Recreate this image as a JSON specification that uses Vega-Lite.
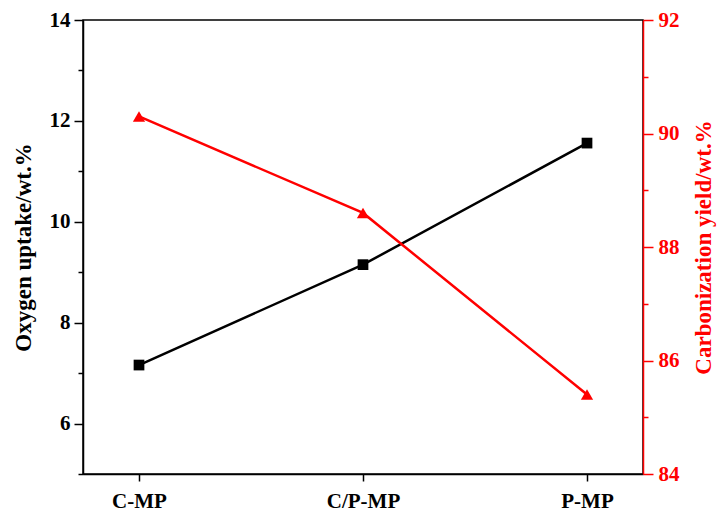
{
  "$schema": "https://vega.github.io/schema/vega-lite/v6.json",
  "width": 560,
  "height": 454,
  "autosize": "none",
  "padding": {"left": 83, "top": 20, "right": 77, "bottom": 44},
  "background": "white",
  "config": {
    "view": {"stroke": "black", "strokeWidth": 1.5},
    "font": "Liberation Serif",
    "axis": {
      "labelFont": "Liberation Serif",
      "labelFontWeight": "bold",
      "labelFontSize": 21,
      "titleFont": "Liberation Serif",
      "titleFontWeight": "bold",
      "titleFontSize": 23,
      "grid": false,
      "domainWidth": 1.5,
      "tickWidth": 1.5
    }
  },
  "data": {
    "values": [
      {"sample": "C-MP", "oxygen": 7.16, "yield": 90.3},
      {"sample": "C/P-MP", "oxygen": 9.15, "yield": 88.6},
      {"sample": "P-MP", "oxygen": 11.56, "yield": 85.4}
    ]
  },
  "encoding": {
    "x": {
      "field": "sample",
      "type": "ordinal",
      "sort": ["C-MP", "C/P-MP", "P-MP"],
      "scale": {"type": "point", "padding": 0.25},
      "axis": {
        "title": null,
        "labelAngle": 0,
        "labelPadding": 9,
        "tickSize": 7,
        "domainColor": "black",
        "tickColor": "black",
        "labelColor": "black"
      }
    }
  },
  "layer": [
    {
      "mark": {
        "type": "line",
        "color": "black",
        "strokeWidth": 2.5,
        "point": {"shape": "square", "filled": true, "size": 115, "color": "black", "opacity": 1}
      },
      "encoding": {
        "y": {
          "field": "oxygen",
          "type": "quantitative",
          "scale": {"domain": [5, 14], "nice": false, "zero": false},
          "axis": {
            "title": "Oxygen uptake/wt.%",
            "orient": "left",
            "values": [5, 6, 7, 8, 9, 10, 11, 12, 13, 14],
            "labelExpr": "datum.value % 2 == 0 ? datum.label : ''",
            "tickSize": {"condition": {"test": "datum.value % 2 == 1", "value": 5}, "value": 9},
            "labelPadding": 4,
            "titlePadding": 14,
            "domainColor": "black",
            "tickColor": "black",
            "labelColor": "black",
            "titleColor": "black"
          }
        }
      }
    },
    {
      "mark": {
        "type": "line",
        "color": "#ff0000",
        "strokeWidth": 2.5,
        "point": {"shape": "triangle-up", "filled": true, "size": 150, "color": "#ff0000", "opacity": 1}
      },
      "encoding": {
        "y": {
          "field": "yield",
          "type": "quantitative",
          "scale": {"domain": [84, 92], "nice": false, "zero": false},
          "axis": {
            "title": "Carbonization yield/wt.%",
            "orient": "right",
            "values": [84, 85, 86, 87, 88, 89, 90, 91, 92],
            "labelExpr": "datum.value % 2 == 0 ? datum.label : ''",
            "tickSize": {"condition": {"test": "datum.value % 2 == 1", "value": 5}, "value": 10},
            "labelPadding": 5,
            "titlePadding": 13,
            "titleAngle": 270,
            "titleBaseline": "top",
            "domainColor": "#ff0000",
            "tickColor": "#ff0000",
            "labelColor": "#ff0000",
            "titleColor": "#ff0000"
          }
        }
      }
    }
  ],
  "resolve": {"scale": {"y": "independent"}}
}
